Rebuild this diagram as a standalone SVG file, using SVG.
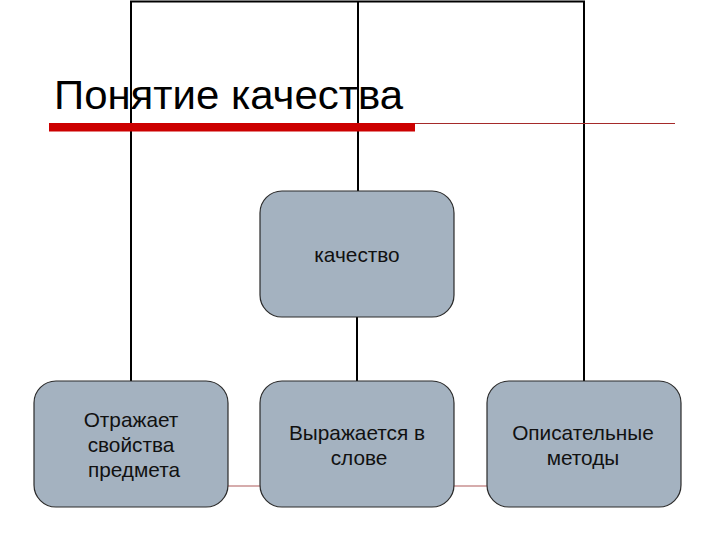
<svg xmlns="http://www.w3.org/2000/svg" width="720" height="540" viewBox="0 0 720 540">
<style>
.box{fill:#A4B2C0;stroke:#2a2a2a;stroke-width:1.2}
.lbl{font-family:"Liberation Sans",Arial,sans-serif;font-size:20.8px;fill:#111;text-anchor:middle}
.conn{stroke:#000;stroke-width:2;fill:none}
</style>
<rect width="720" height="540" fill="#fff"/>
<line x1="228" y1="486" x2="487" y2="486" stroke="#C89090" stroke-width="1.5"/>
<g id="connectors">
<polyline class="conn" points="131,381 131,1.5 584,1.5 584,381"/>
<line class="conn" x1="358" y1="1.5" x2="358" y2="191"/>
<line class="conn" x1="357" y1="317" x2="357" y2="381"/>
</g>
<g id="title">
<text x="54" y="109" font-family="'Liberation Sans',Arial,sans-serif" font-size="41" fill="#000" textLength="349" lengthAdjust="spacingAndGlyphs">Понятие качества</text>
<rect x="49" y="123" width="366" height="8.5" fill="#CC0000"/>
<line x1="415" y1="123.5" x2="675" y2="123.5" stroke="#A52A2A" stroke-width="1"/>
</g>
<g id="node-quality">
<rect class="box" x="260" y="191" width="194" height="126" rx="22"/>
<text class="lbl" x="357" y="262">качество</text>
</g>
<g id="node-reflects">
<rect class="box" x="34" y="381" width="194" height="126" rx="22"/>
<text class="lbl" x="131" y="427">Отражает</text>
<text class="lbl" x="131" y="452">свойства</text>
<text class="lbl" x="134" y="477">предмета</text>
</g>
<g id="node-word">
<rect class="box" x="260" y="381" width="194" height="126" rx="22"/>
<text class="lbl" x="357" y="440">Выражается в</text>
<text class="lbl" x="359" y="465">слове</text>
</g>
<g id="node-methods">
<rect class="box" x="487" y="381" width="194" height="126" rx="22"/>
<text class="lbl" x="583" y="440">Описательные</text>
<text class="lbl" x="583" y="465">методы</text>
</g>
</svg>
